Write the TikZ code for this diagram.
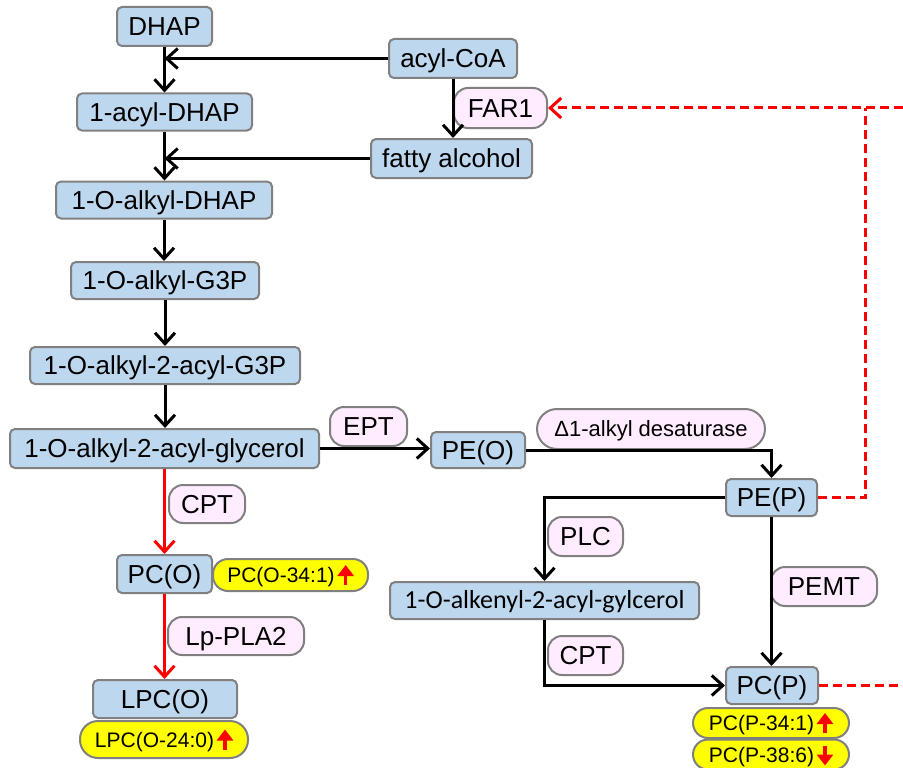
\documentclass[tikz,border=0pt]{standalone}
\usepackage{fontspec}
\setmainfont{Liberation Sans}
\newfontfamily\calibfont{Carlito}
\usetikzlibrary{arrows.meta}
\definecolor{boxblue}{RGB}{189,215,238}
\definecolor{bordergray}{RGB}{128,128,128}
\definecolor{enzpink}{RGB}{255,236,255}
\definecolor{ylw}{RGB}{255,255,0}
\definecolor{rd}{RGB}{255,0,0}
\newcommand{\myup}{\tikz[baseline=0pt,x=1pt,y=1pt]\draw[rd,line width=3.2pt,-{Triangle[length=11pt,width=16pt]}] (0,-2.5) -- (0,17.5);}
\newcommand{\mydown}{\tikz[baseline=0pt,x=1pt,y=1pt]\draw[rd,line width=3.2pt,-{Triangle[length=11pt,width=16pt]}] (0,16.5) -- (0,-3.5);}
\begin{document}
\begin{tikzpicture}[x=1pt,y=-1pt,
  sz/.style 2 args={minimum width=#1pt,minimum height=#2pt},
  box/.style={draw=bordergray,line width=2pt,fill=boxblue,rounded corners=5pt,inner sep=0pt,
    font=\fontsize{26}{30}\selectfont,text height=18.7pt,text depth=0pt},
  enz/.style={draw=bordergray,line width=2pt,fill=enzpink,rounded corners=14pt,inner sep=0pt,
    font=\fontsize{26}{30}\selectfont,text height=18.7pt,text depth=0pt},
  ylab/.style={draw=bordergray,line width=2pt,fill=ylw,rounded corners=15pt,inner sep=0pt,
    font=\fontsize{21}{24}\selectfont,text height=15pt,text depth=0pt},
  conn/.style={line width=3pt,-{Straight Barb[length=11pt,width=20pt]}},
  redconn/.style={conn,draw=rd},
  reddash/.style={draw=rd,line width=3pt,dash pattern=on 9pt off 5pt},
]
\useasboundingbox (0,0) rectangle (903,768);

% substrate boxes
\node[box,sz={95}{39}] (dhap) at (164.5,26.5) {DHAP};
\node[box,sz={128}{39}] (acoa) at (453,58.5) {acyl-CoA};
\node[box,sz={175}{37}] (facyl) at (164.5,112) {1-acyl-DHAP};
\node[box,sz={161}{39}] (falc) at (451.5,158.5) {fatty alcohol};
\node[box,sz={216}{37}] (oadhap) at (164,200) {1-O-alkyl-DHAP};
\node[box,sz={188}{37}] (og3p) at (165,280.5) {1-O-alkyl-G3P};
\node[box,sz={270}{37}] (oag3p) at (165,365.5) {1-O-alkyl-2-acyl-G3P};
\node[box,sz={309}{39}] (oagly) at (164.5,448.5) {1-O-alkyl-2-acyl-glycerol};
\node[box,sz={94}{36}] (peo) at (478,450) {PE(O)};
\node[box,sz={91}{37}] (pep) at (771.5,497.5) {PE(P)};
\node[box,sz={309}{37},font=\calibfont\fontsize{26}{30}\selectfont,text height=16.7pt] (alk) at (544.5,600.5) {1-O-alkenyl-2-acyl-gylcerol};
\node[box,sz={92}{37}] (pcp) at (772,685.5) {PC(P)};
\node[box,sz={95}{38}] (pco) at (164.5,574) {PC(O)};
\node[box,sz={144}{38}] (lpco) at (165,699) {LPC(O)};

% enzymes
\node[enz,sz={93}{40}] (far) at (500.5,108) {FAR1};
\node[enz,sz={77}{39}] (ept) at (368.5,426.5) {EPT};
\node[enz,sz={76}{38}] (cpta) at (207,504) {CPT};
\node[enz,sz={136}{38}] (lppla) at (236,636) {Lp-PLA2};
\node[enz,sz={228}{40},rounded corners=20pt,font=\fontsize{22}{26}\selectfont,text height=15.8pt] (desat) at (651,429) {Δ1-alkyl desaturase};
\node[enz,sz={75}{39}] (plc) at (585.5,536.5) {PLC};
\node[enz,sz={106}{39}] (pemt) at (824,586.5) {PEMT};
\node[enz,sz={75}{39}] (cptb) at (585.5,655.5) {CPT};

% measured species
\node[ylab,sz={155}{32}] (ya) at (290.5,575) {PC(O-34:1)\hspace{3pt}\myup};
\node[ylab,sz={168}{37},rounded corners=18pt] (yb) at (164,739.5) {LPC(O-24:0)\hspace{3pt}\myup};
\node[ylab,sz={156}{30}] (yc) at (771,723) {PC(P-34:1)\hspace{3pt}\myup};
\node[ylab,sz={156}{30}] (yd) at (771,754.5) {PC(P-38:6)\hspace{3pt}\mydown};

% helper coordinates
\coordinate (rc) at (865,108);
\coordinate (re1) at (903,108);
\coordinate (re2) at (903,685.5);

% connectors
\draw[conn] (dhap.south) -- (dhap.south |- facyl.north);
\draw[conn] (acoa.west) -- (dhap.south |- acoa.west);
\draw[conn] (acoa.south) -- (acoa.south |- falc.north);
\draw[conn] (falc.west) -- (facyl.south |- falc.west);
\draw[conn] (facyl.south) -- (facyl.south |- oadhap.north);
\draw[conn] (oadhap.south) -- (oadhap.south |- og3p.north);
\draw[conn] (og3p.south) -- (og3p.south |- oag3p.north);
\draw[conn] (oag3p.south) -- (oag3p.south |- oagly.north);
\draw[conn] (oagly.east) -- (oagly.east -| peo.west);
\draw[conn] (peo.east) -| (pep.north);
\draw[conn] (pep.west) -| (alk.north);
\draw[conn] (pep.south) -- (pep.south |- pcp.north);
\draw[conn] (alk.south) |- (pcp.west);
\draw[redconn] (oagly.south) -- (oagly.south |- pco.north);
\draw[redconn] (pco.south) -- (pco.south |- lpco.north);

% red dashed feedback
\draw[reddash] (pep.east) -| (rc);
\draw[reddash,-{Straight Barb[length=11pt,width=20pt]}] (re1) -- (far.east);
\draw[reddash] (pcp.east) -- (re2);
\end{tikzpicture}
\end{document}
